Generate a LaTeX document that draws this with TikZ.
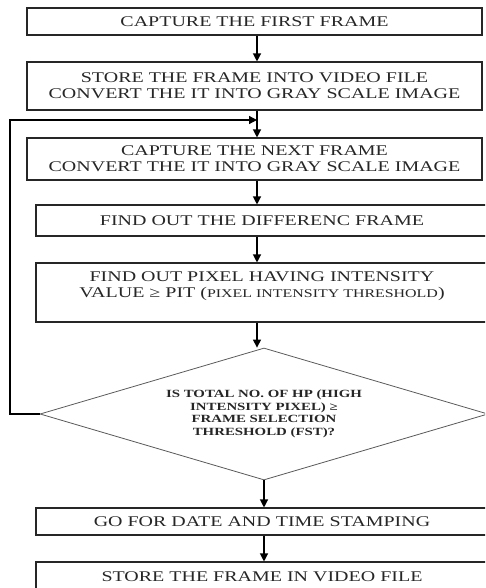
\documentclass[tikz,border=0pt]{standalone}
\usepackage{fontspec}
\setmainfont[FakeStretch=1.35]{Liberation Serif}
\usetikzlibrary{arrows.meta,shapes.geometric}

\begin{document}
\begin{tikzpicture}[x=1pt,y=-1pt,
    box/.style={draw=black!85,line width=1.1pt,rectangle,inner sep=0pt,
      align=center,text=black!85,font=\fontsize{14.8}{16}\selectfont},
    dia/.style={draw=black!65,line width=0.8pt,diamond,aspect=3.39,inner sep=0pt,
      minimum width=448pt,minimum height=132pt,align=center,text=black!85,
      font=\bfseries\fontsize{11}{12.5}\selectfont},
    arr/.style={draw=black,line width=1.2pt,-{Triangle[length=8pt,width=8pt]}}]
\useasboundingbox (0,0) rectangle (485,588);
\clip (0,0) rectangle (485,588);
\node[box,minimum width=455pt,minimum height=27pt] (b1) at (254.5,21.5) {CAPTURE THE FIRST FRAME};
\node[box,minimum width=455pt,minimum height=48pt] (b2) at (254.5,86) {STORE THE FRAME INTO VIDEO FILE\\CONVERT THE IT INTO GRAY SCALE IMAGE};
\node[box,minimum width=455pt,minimum height=42pt] (b3) at (254.5,159) {CAPTURE THE NEXT FRAME\\CONVERT THE IT INTO GRAY SCALE IMAGE};
\node[box,minimum width=452pt,minimum height=31pt] (b4) at (262,220.5) {FIND OUT THE DIFFERENC FRAME};
\node[box,minimum width=452pt,minimum height=59pt] (b5) at (262,292.5) {FIND OUT PIXEL HAVING INTENSITY\\VALUE ≥ PIT ({\fontsize{11.8}{16}\selectfont PIXEL INTENSITY THRESHOLD})\\\mbox{}};
\node[dia] (d) at (264,414) {IS TOTAL NO. OF HP (HIGH\\INTENSITY PIXEL) ≥\\FRAME SELECTION\\THRESHOLD (FST)?};
\node[box,minimum width=452pt,minimum height=27pt] (b6) at (262,521.5) {GO FOR DATE AND TIME STAMPING};
\node[box,minimum width=452pt,minimum height=30pt] (b7) at (262,577) {STORE THE FRAME IN VIDEO FILE};
\coordinate (sp) at (257,0);
\coordinate (lp) at (10,120);
\coordinate (jn) at (257,120);
\draw[arr] (b1.south -| sp) -- (b2.north -| sp);
\draw[arr] (b2.south -| sp) -- (b3.north -| sp);
\draw[arr] (b3.south -| sp) -- (b4.north -| sp);
\draw[arr] (b4.south -| sp) -- (b5.north -| sp);
\draw[arr] (b5.south -| sp) -- (sp |- d.north);
\draw[arr] (d.west) -| (lp) -- (jn);
\draw[arr] (d.south) -- (d.south |- b6.north);
\draw[arr] (b6.south -| d.south) -- (b7.north -| d.south);
\end{tikzpicture}
\end{document}
